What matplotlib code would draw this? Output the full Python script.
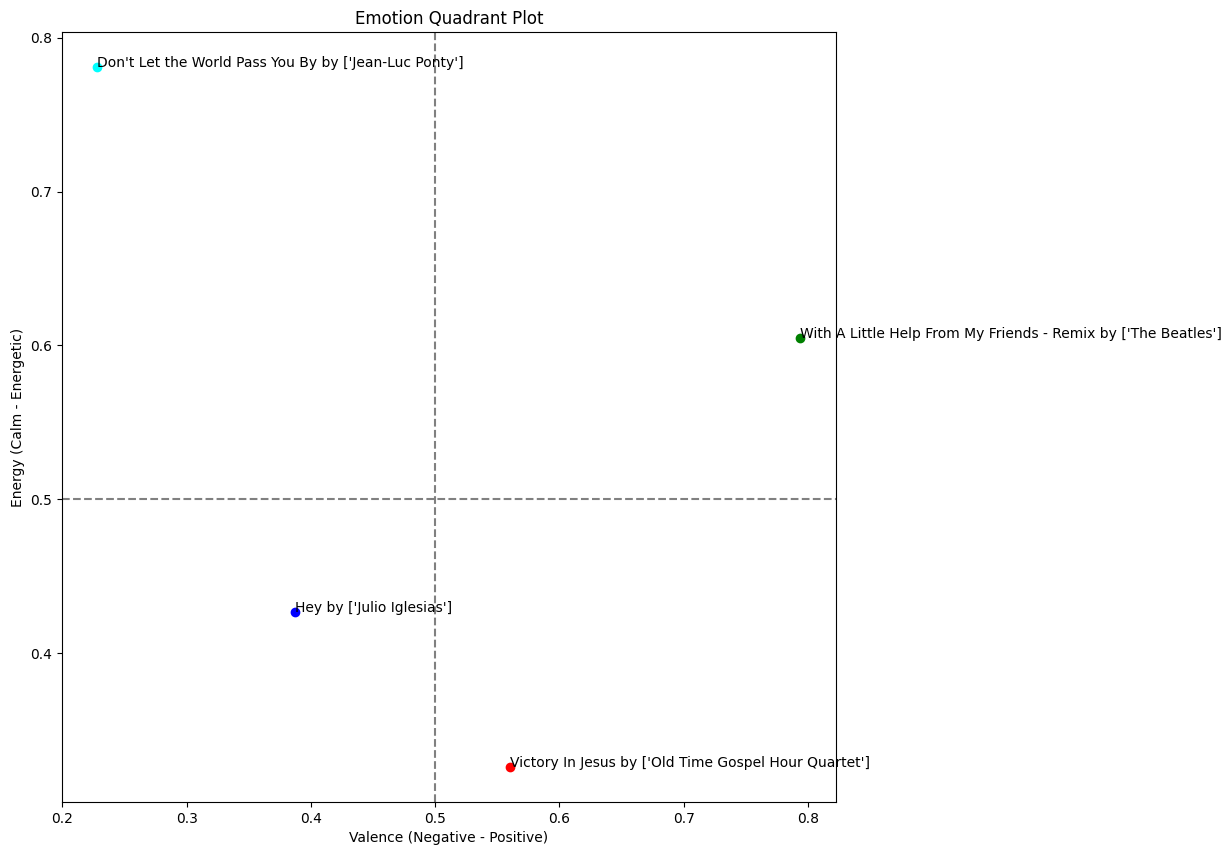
import matplotlib
matplotlib.use('Agg')
import matplotlib.pyplot as plt

# Song data
songs = ["Don't Let the World Pass You By", "With A Little Help From My Friends - Remix",
         "Hey", "Victory In Jesus"]
artists = ["['Jean-Luc Ponty']", "['The Beatles']", "['Julio Iglesias']",
           "['Old Time Gospel Hour Quartet']"]
valence = [0.228, 0.794, 0.387, 0.560]
energy = [0.781, 0.605, 0.427, 0.326]
colors = ['cyan', 'green', 'blue', 'red']

fig = plt.figure(figsize=(12.32, 8.55), dpi=100)
ax = fig.add_axes([0.0503, 0.062, 0.628, 0.9006])

for v, e, c, s, a in zip(valence, energy, colors, songs, artists):
    ax.scatter(v, e, color=c)
    ax.text(v, e, f"{s} by {a}")

ax.axhline(0.5, color='gray', linestyle='--')
ax.axvline(0.5, color='gray', linestyle='--')

ax.set_xlabel('Valence (Negative - Positive)')
ax.set_ylabel('Energy (Calm - Energetic)')
ax.set_title('Emotion Quadrant Plot')

fig.savefig('out.png')
